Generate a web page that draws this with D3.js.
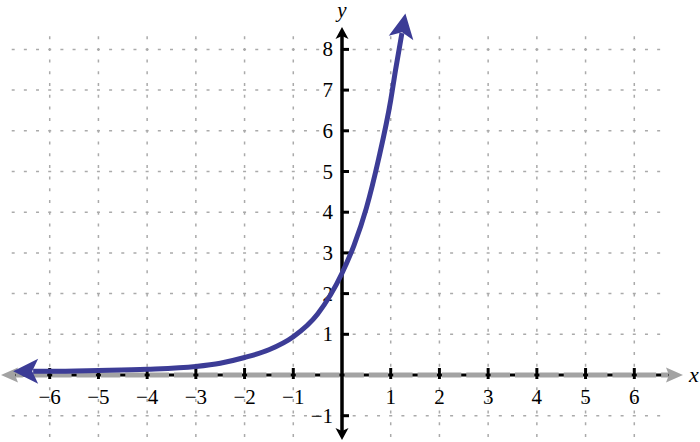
<!DOCTYPE html>
<html lang="en">
<head>
  <meta charset="UTF-8">
  <title>Exponential curve</title>
  <script src="https://d3js.org/d3.v7.min.js"></script>
  <style>
    body { margin: 0; background: #fff; }
  </style>
</head>
<body>
  <svg id="chart" width="700" height="442"></svg>

  <script>
    // values
    const xTicks = [-6, -5, -4, -3, -2, -1, 1, 2, 3, 4, 5, 6];
    const yTicks = [-1, 1, 2, 3, 4, 5, 6, 7, 8];
    const curveX = [-6.34, -6, -5, -4, -3, -2.5, -2, -1.5, -1, -0.5, 0, 0.25, 0.5, 0.75, 1, 1.1, 1.23];
    const curveY = [0.09, 0.09, 0.11, 0.14, 0.21, 0.29, 0.43, 0.62, 0.94, 1.5, 2.5, 3.2, 4.1, 5.3, 6.75, 7.5, 8.4];

    const serif = "'Liberation Serif', 'DejaVu Serif', serif";
    const svg = d3.select("#chart");
    const x = d3.scaleLinear().domain([-7, 7]).range([1, 683]);
    const y = d3.scaleLinear().domain([-1.6, 8.5]).range([440.12, 29.05]);

    const blue = "#3c3c96";
    const gray = "#a3a3a3";
    const defs = svg.append("defs");

    function arrow(id, color, len, half, notch, shift) {
      defs.append("marker")
        .attr("id", id)
        .attr("markerUnits", "userSpaceOnUse")
        .attr("orient", "auto-start-reverse")
        .attr("viewBox", "-40 -20 80 40")
        .attr("markerWidth", 80)
        .attr("markerHeight", 40)
        .attr("refX", 0)
        .attr("refY", 0)
        .style("overflow", "visible")
        .append("path")
        .attr("d", `M${shift},0L${shift - len},${-half}L${shift - len + notch},0L${shift - len},${half}Z`)
        .attr("fill", color);
    }
    arrow("arrBlue", blue, 25, 12.5, 6, 20);
    arrow("arrGray", gray, 17, 7.5, 3, 14.6);
    arrow("arrBlack", "#000", 12, 6.5, 3, 9);

    // -------- grid --------
    const unitX = x(1) - x(0);
    const hPeriod = unitX / 4;
    const gx0 = x(-6.78), gx1 = x(6.7);
    svg.append("g").selectAll("line")
      .data(yTicks)
      .enter().append("line")
      .attr("x1", gx0).attr("x2", gx1)
      .attr("y1", d => y(d)).attr("y2", d => y(d))
      .attr("stroke", "#aaa")
      .attr("stroke-width", 1.5)
      .attr("stroke-dasharray", `3,${hPeriod - 3}`)
      .attr("stroke-dashoffset", 1.5 - (x(-6) - gx0));

    svg.append("g").selectAll("line")
      .data(xTicks)
      .enter().append("line")
      .attr("x1", d => x(d)).attr("x2", d => x(d))
      .attr("y1", y(8.33)).attr("y2", 442)
      .attr("stroke", "#aaa")
      .attr("stroke-width", 1.5)
      .attr("stroke-dasharray", "3,8.7")
      .attr("stroke-dashoffset", 1.5 - (y(8) - y(8.33)));

    // -------- axes --------
    const y0 = y(0), x0 = x(0);
    svg.append("line")
      .attr("x1", x(-6.8)).attr("x2", x(6.8))
      .attr("y1", y0).attr("y2", y0)
      .attr("stroke", "#000").attr("stroke-width", 3);

    svg.append("g").selectAll("line")
      .data(xTicks)
      .enter().append("line")
      .attr("x1", d => x(d)).attr("x2", d => x(d))
      .attr("y1", y0 - 7).attr("y2", y0 + 4)
      .attr("stroke", "#000").attr("stroke-width", 3);

    const yTop = y(8.55), yBot = y(-1.6);
    svg.append("line")
      .attr("x1", x0).attr("x2", x0)
      .attr("y1", yTop + 9).attr("y2", yBot - 9)
      .attr("stroke", "#000").attr("stroke-width", 3.5)
      .attr("marker-start", "url(#arrBlack)")
      .attr("marker-end", "url(#arrBlack)");

    svg.append("g").selectAll("line")
      .data(yTicks)
      .enter().append("line")
      .attr("x1", x0).attr("x2", x0 + 7)
      .attr("y1", d => y(d)).attr("y2", d => y(d))
      .attr("stroke", "#000").attr("stroke-width", 3);

    // tick labels
    const fmt = t => t < 0 ? "\u2212" + (-t) : String(t);
    svg.append("g").selectAll("text")
      .data(xTicks)
      .enter().append("text")
      .attr("font-family", serif)
      .attr("font-size", 21)
      .attr("fill", "#000")
      .attr("x", d => x(d))
      .attr("y", y0 + 29)
      .attr("text-anchor", "middle")
      .text(fmt);

    svg.append("g").selectAll("text")
      .data(yTicks)
      .enter().append("text")
      .attr("font-family", serif)
      .attr("font-size", 21)
      .attr("fill", "#000")
      .attr("x", x0 - 9)
      .attr("y", d => y(d) + 7)
      .attr("text-anchor", "end")
      .text(fmt);

    svg.append("text")
      .attr("font-family", serif).attr("font-size", 21)
      .attr("font-style", "italic").attr("fill", "#000")
      .attr("x", x0).attr("y", 17)
      .attr("text-anchor", "middle").text("y");
    svg.append("text")
      .attr("font-family", serif).attr("font-size", 22)
      .attr("font-style", "italic").attr("fill", "#000")
      .attr("x", 689).attr("y", 382)
      .text("x");

    // -------- asymptote y = 0 --------
    const dashP = unitX / 2;
    svg.append("line")
      .attr("x1", x(-6.7)).attr("x2", x(6.7))
      .attr("y1", y0).attr("y2", y0)
      .attr("stroke", gray).attr("stroke-width", 5)
      .attr("stroke-dasharray", `${dashP - 5},5`)
      .attr("stroke-dashoffset", (dashP - 2.5) - (x(-6) - x(-6.7)))
      .attr("marker-start", "url(#arrGray)")
      .attr("marker-end", "url(#arrGray)");

    // -------- curve --------
    const pts = curveX.map((d, i) => [d, curveY[i]]);
    const line = d3.line()
      .x(d => x(d[0]))
      .y(d => y(d[1]))
      .curve(d3.curveMonotoneX);

    svg.append("path")
      .datum(pts)
      .attr("fill", "none")
      .attr("stroke", blue)
      .attr("stroke-width", 5)
      .attr("d", line)
      .attr("marker-start", "url(#arrBlue)")
      .attr("marker-end", "url(#arrBlue)");
  </script>
</body>
</html>
